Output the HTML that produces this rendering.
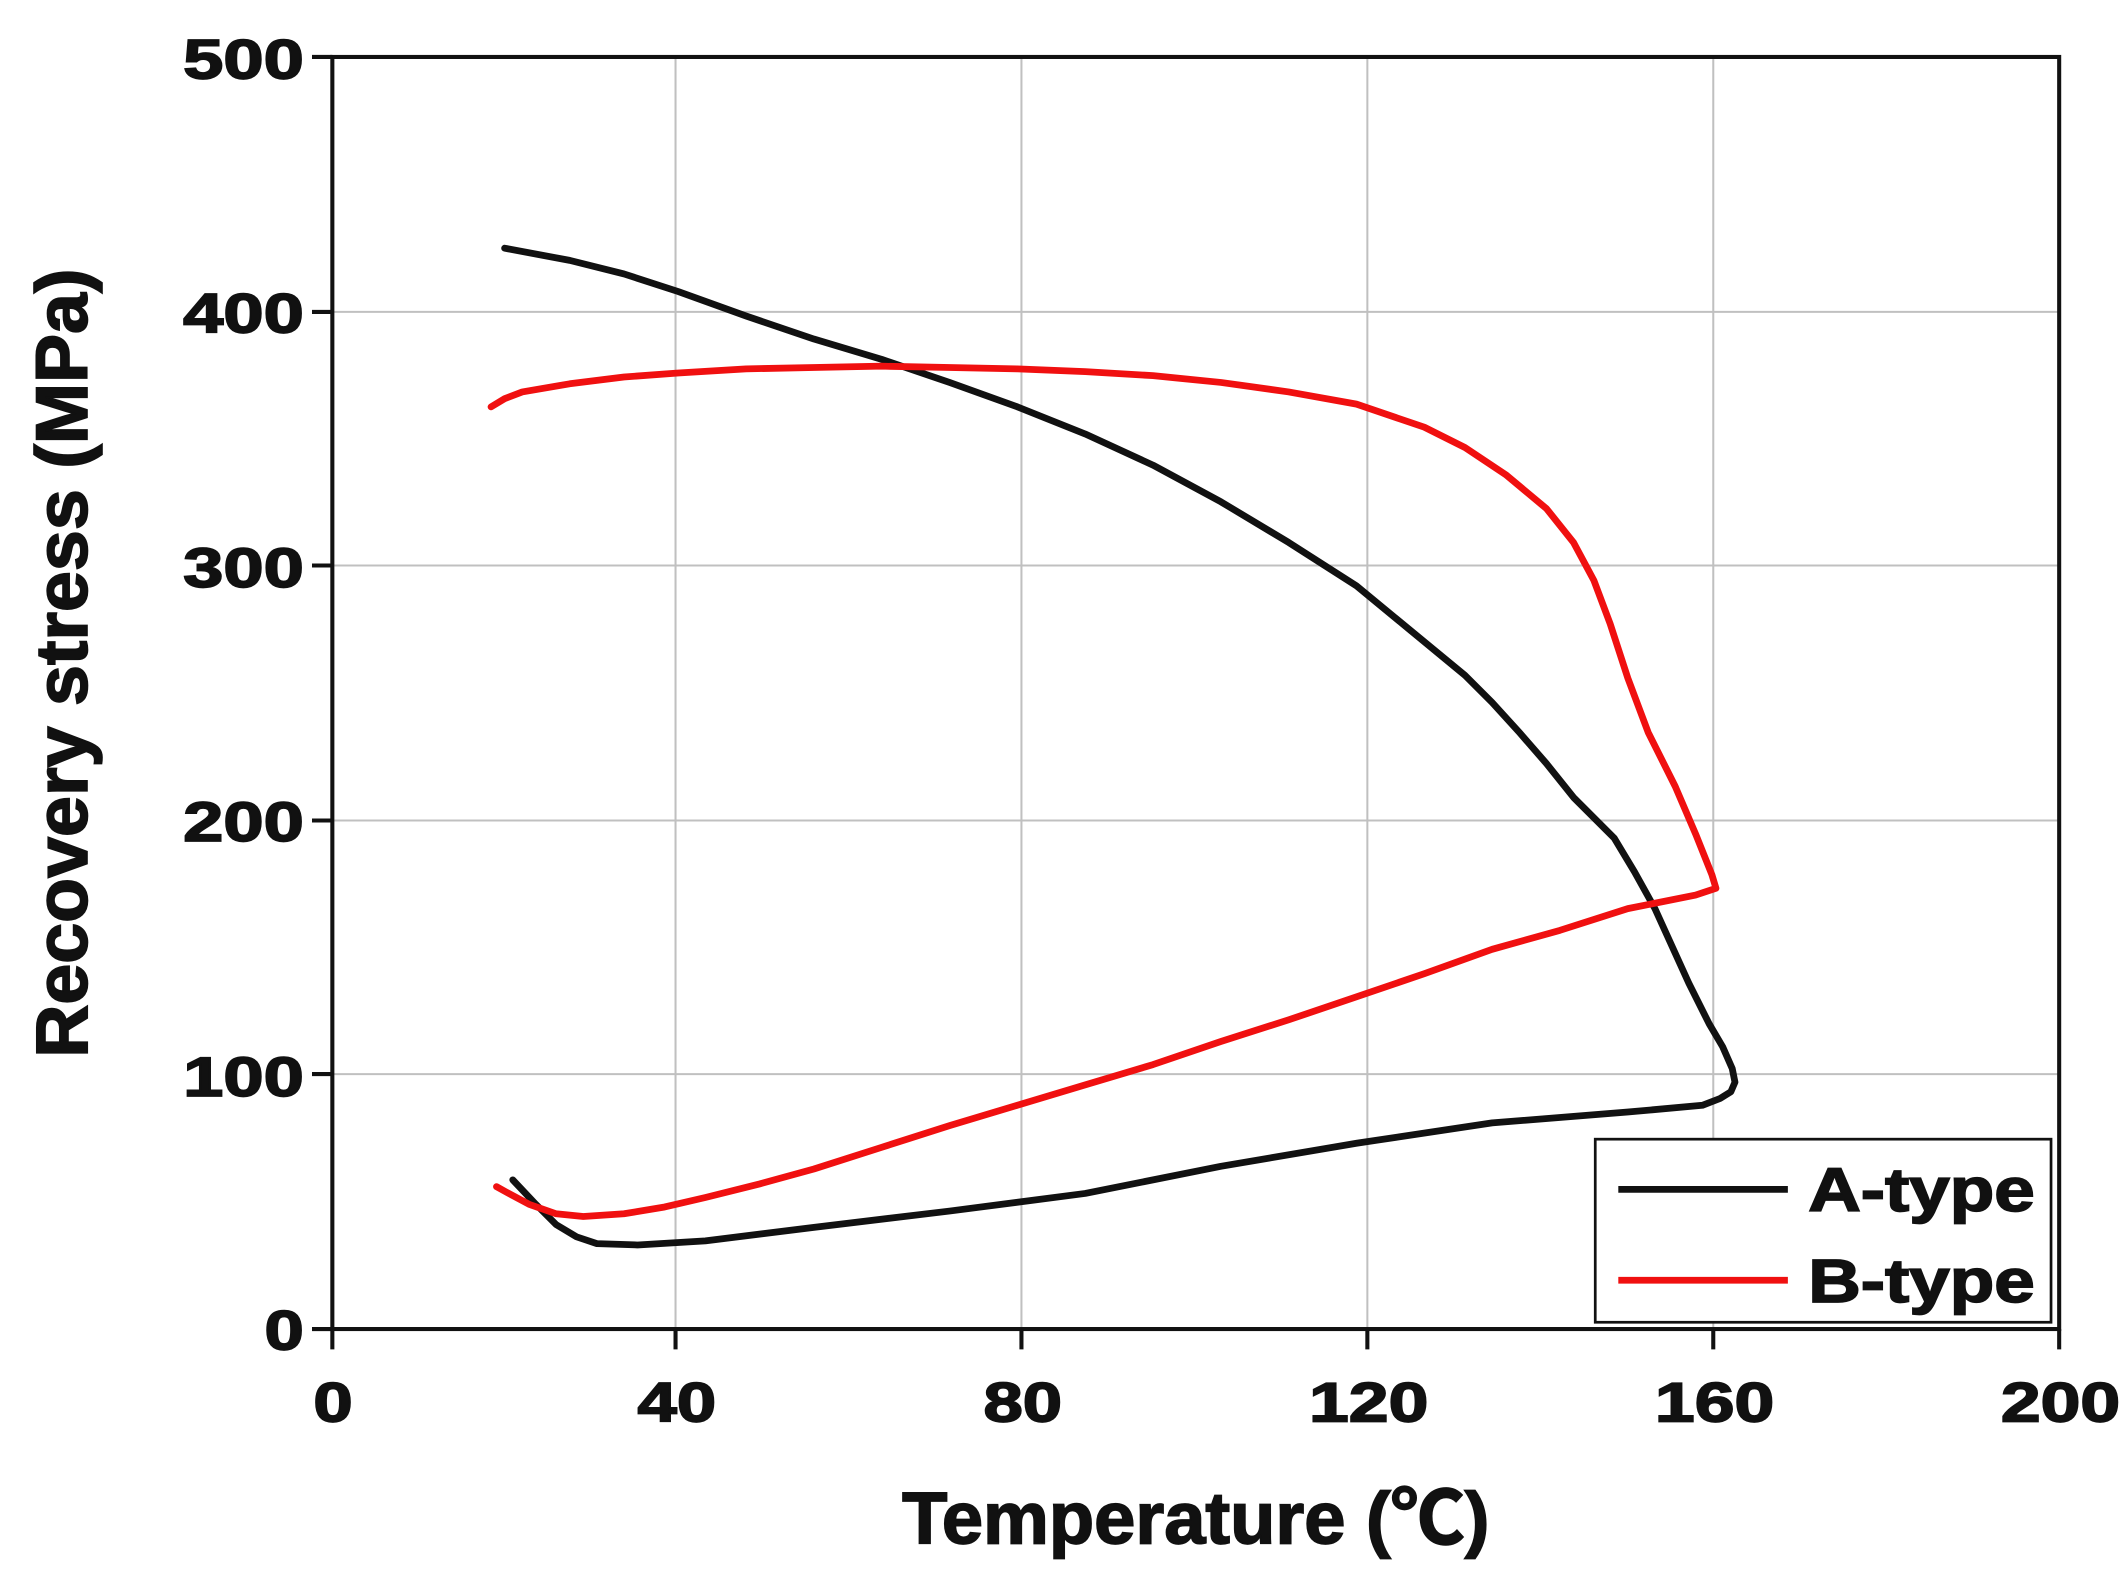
<!DOCTYPE html>
<html><head><meta charset="utf-8"><style>
html,body{margin:0;padding:0;background:#fff;}
svg{display:block;}
text{font-family:"Liberation Sans","Noto Sans CJK SC",sans-serif;font-weight:bold;fill:#111;stroke:#111;stroke-width:1.2;}
</style></head><body>
<svg width="2127" height="1584" viewBox="0 0 1568 1168" preserveAspectRatio="none" xmlns="http://www.w3.org/2000/svg">
<rect width="1568" height="1168" fill="#fff"/>
<g stroke="#c0c0c0" stroke-width="1.5">
<line x1="498" y1="42" x2="498" y2="980"/><line x1="753" y1="42" x2="753" y2="980"/>
<line x1="1008" y1="42" x2="1008" y2="980"/><line x1="1263" y1="42" x2="1263" y2="980"/>
<line x1="245" y1="792" x2="1518" y2="792"/><line x1="245" y1="605" x2="1518" y2="605"/>
<line x1="245" y1="417" x2="1518" y2="417"/><line x1="245" y1="230" x2="1518" y2="230"/>
</g>
<rect x="245" y="42" width="1273" height="938" fill="none" stroke="#111" stroke-width="3"/>
<g stroke="#111" stroke-width="3">
<line x1="230" y1="42" x2="245" y2="42"/><line x1="230" y1="230" x2="245" y2="230"/><line x1="230" y1="417" x2="245" y2="417"/>
<line x1="230" y1="605" x2="245" y2="605"/><line x1="230" y1="792" x2="245" y2="792"/><line x1="230" y1="980" x2="245" y2="980"/>
<line x1="245" y1="980" x2="245" y2="995"/><line x1="498" y1="980" x2="498" y2="995"/><line x1="753" y1="980" x2="753" y2="995"/>
<line x1="1008" y1="980" x2="1008" y2="995"/><line x1="1263" y1="980" x2="1263" y2="995"/><line x1="1518" y1="980" x2="1518" y2="995"/>
</g>
<g font-size="41">
<text x="135" y="58" textLength="89" lengthAdjust="spacingAndGlyphs">500</text>
<text x="135" y="245" textLength="89" lengthAdjust="spacingAndGlyphs">400</text>
<text x="135" y="433" textLength="89" lengthAdjust="spacingAndGlyphs">300</text>
<text x="135" y="620" textLength="89" lengthAdjust="spacingAndGlyphs">200</text>
<text x="135" y="808" textLength="89" lengthAdjust="spacingAndGlyphs">100</text>
<text x="195" y="995" textLength="29" lengthAdjust="spacingAndGlyphs">0</text>
</g>
<g font-size="41">
<text x="231" y="1048" textLength="29" lengthAdjust="spacingAndGlyphs">0</text>
<text x="470" y="1048" textLength="58" lengthAdjust="spacingAndGlyphs">40</text>
<text x="725" y="1048" textLength="58" lengthAdjust="spacingAndGlyphs">80</text>
<text x="965" y="1048" textLength="88" lengthAdjust="spacingAndGlyphs">120</text>
<text x="1220" y="1048" textLength="88" lengthAdjust="spacingAndGlyphs">160</text>
<text x="1475" y="1048" textLength="88" lengthAdjust="spacingAndGlyphs">200</text>
</g>
<text x="665" y="1138" font-size="54" textLength="433" lengthAdjust="spacingAndGlyphs">Temperature (℃)</text>
<text transform="translate(64,780) rotate(-90)" font-size="54" textLength="582" lengthAdjust="spacingAndGlyphs">Recovery stress (MPa)</text>
<polyline fill="none" stroke="#111" stroke-width="5" stroke-linejoin="round" stroke-linecap="round" points="378,870 395,888 410,903 425,912 440,917 470,918 520,915 600,905 700,893 800,880 900,860 1000,843 1100,828 1200,820 1255,815 1268,810 1276,805 1279,798 1277,788 1270,772 1260,755 1245,725 1220,670 1205,643 1190,618 1160,588 1140,563 1120,540 1100,518 1080,498 1040,465 1000,432 950,400 900,370 850,343 800,320 750,300 700,282 650,265 600,250 550,233 500,215 460,202 420,192 372,183"/>
<polyline fill="none" stroke="#f01010" stroke-width="5" stroke-linejoin="round" stroke-linecap="round" points="362,300 372,294 385,289 420,283 460,278 500,275 550,272 600,271 650,270 700,271 750,272 800,274 850,277 900,282 950,289 1000,298 1050,315 1080,330 1110,350 1140,375 1160,400 1175,428 1187,460 1200,500 1215,540 1235,580 1250,615 1262,645 1265,655 1250,660 1200,670 1150,686 1100,700 1050,718 1000,735 950,752 900,768 850,785 800,800 750,815 700,830 650,846 600,862 560,873 520,883 490,890 460,895 430,897 410,895 390,888 375,880 366,875"/>
<rect x="1176" y="840" width="336" height="135" fill="#fff" stroke="#111" stroke-width="2"/>
<line x1="1193" y1="877" x2="1318" y2="877" stroke="#111" stroke-width="5"/>
<line x1="1193" y1="944" x2="1318" y2="944" stroke="#f01010" stroke-width="5"/>
<text x="1333" y="893" font-size="45" textLength="167" lengthAdjust="spacingAndGlyphs">A-type</text>
<text x="1333" y="960" font-size="45" textLength="167" lengthAdjust="spacingAndGlyphs">B-type</text>
</svg>
</body></html>
